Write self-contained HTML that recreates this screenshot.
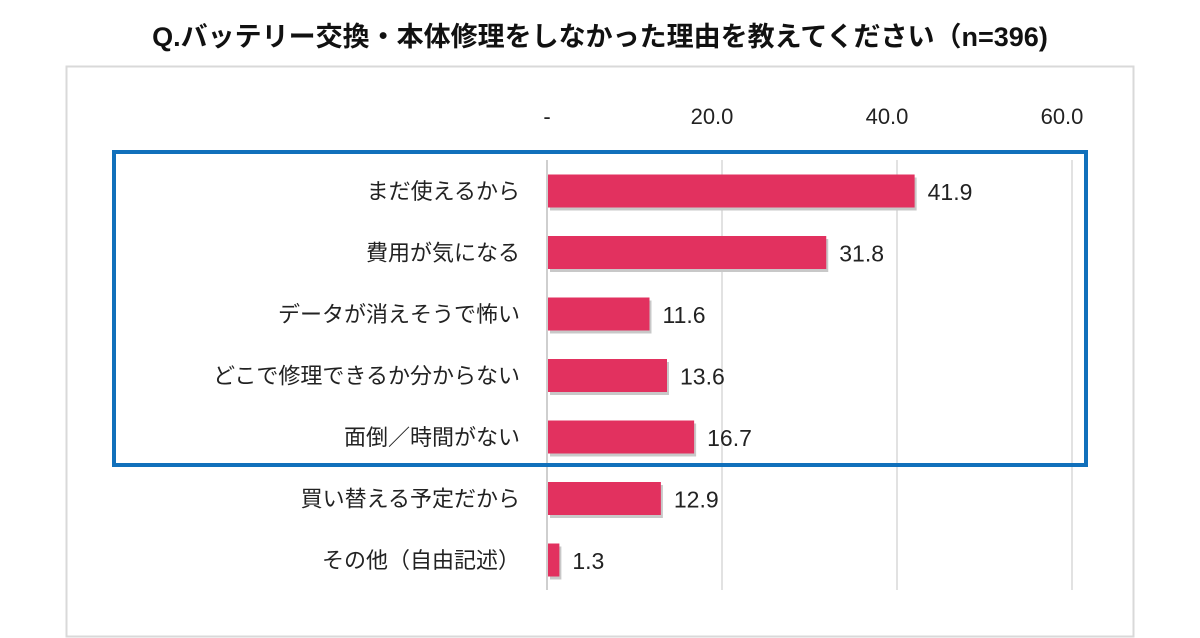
<!DOCTYPE html>
<html><head><meta charset="utf-8">
<style>
html,body{margin:0;padding:0;background:#fff;}
svg{display:block;font-family:"Liberation Sans","Noto Sans CJK JP",sans-serif;}
</style></head>
<body>
<svg id="chart" width="1200" height="638" viewBox="0 0 1200 638">
  <text x="600" y="46" text-anchor="middle" font-size="27" font-weight="bold" fill="#111">Q.バッテリー交換・本体修理をしなかった理由を教えてください（n=396)</text>
  <rect x="66.5" y="66.5" width="1067" height="570" fill="none" stroke="#d9d9d9" stroke-width="2"/>
  <g id="grid"></g>
  <g id="ticks"></g>
  <g id="bars"></g>
  <rect x="114" y="152" width="972" height="313" fill="none" stroke="#1170bb" stroke-width="4"/>
</svg>
<script>
const categories = ["まだ使えるから","費用が気になる","データが消えそうで怖い","どこで修理できるか分からない","面倒／時間がない","買い替える予定だから","その他（自由記述）"];
const values = [41.9, 31.8, 11.6, 13.6, 16.7, 12.9, 1.3];
const valueLabels = ["41.9","31.8","11.6","13.6","16.7","12.9","1.3"];
const tickValues = [0, 20, 40, 60];
const tickLabels = ["-", "20.0", "40.0", "60.0"];

const NS = "http://www.w3.org/2000/svg";
const x0 = 547, pxPerUnit = 8.75;
function xScale(v){ return x0 + v * pxPerUnit; }
function yCenter(i){ return 191 + i * 61.5; }
const barH = 33;

const grid = document.getElementById('grid');
const ticks = document.getElementById('ticks');
const bars = document.getElementById('bars');

tickValues.forEach((t, i) => {
  const l = document.createElementNS(NS, 'line');
  l.setAttribute('x1', xScale(t)); l.setAttribute('x2', xScale(t));
  l.setAttribute('y1', 160); l.setAttribute('y2', 590);
  l.setAttribute('stroke', i === 0 ? '#bfbfbf' : '#d9d9d9');
  l.setAttribute('stroke-width', 1.5);
  
  
  grid.appendChild(l);
  const tx = document.createElementNS(NS, 'text');
  tx.setAttribute('x', i === 0 ? xScale(t) : xScale(t) - 10);
  tx.setAttribute('y', 124);
  tx.setAttribute('text-anchor', 'middle');
  tx.setAttribute('font-size', 22);
  tx.setAttribute('fill', '#222');
  tx.textContent = tickLabels[i];
  
  
  ticks.appendChild(tx);
});

categories.forEach((c, i) => {
  const yc = yCenter(i);
  const lab = document.createElementNS(NS, 'text');
  lab.setAttribute('x', 520); lab.setAttribute('y', yc + 8);
  lab.setAttribute('text-anchor', 'end');
  lab.setAttribute('font-size', 22);
  lab.setAttribute('fill', '#222');
  lab.textContent = c;
  
  
  bars.appendChild(lab);

  const sh = document.createElementNS(NS, 'rect');
  sh.setAttribute('x', xScale(0) + 3); sh.setAttribute('y', yc - barH/2 + 3);
  sh.setAttribute('width', xScale(values[i]) - xScale(0)); sh.setAttribute('height', barH);
  sh.setAttribute('fill', '#c8c8c8');
  
  
  bars.appendChild(sh);

  const r = document.createElementNS(NS, 'rect');
  r.setAttribute('x', xScale(0) + 1); r.setAttribute('y', yc - barH/2);
  r.setAttribute('width', xScale(values[i]) - xScale(0)); r.setAttribute('height', barH);
  r.setAttribute('fill', '#e2315f');
  
  
  bars.appendChild(r);

  const v = document.createElementNS(NS, 'text');
  v.setAttribute('x', xScale(values[i]) + 14); v.setAttribute('y', yc + 9);
  v.setAttribute('font-size', 23);
  v.setAttribute('fill', '#222');
  v.textContent = valueLabels[i];
  
  
  bars.appendChild(v);
});
</script>
</body></html>
